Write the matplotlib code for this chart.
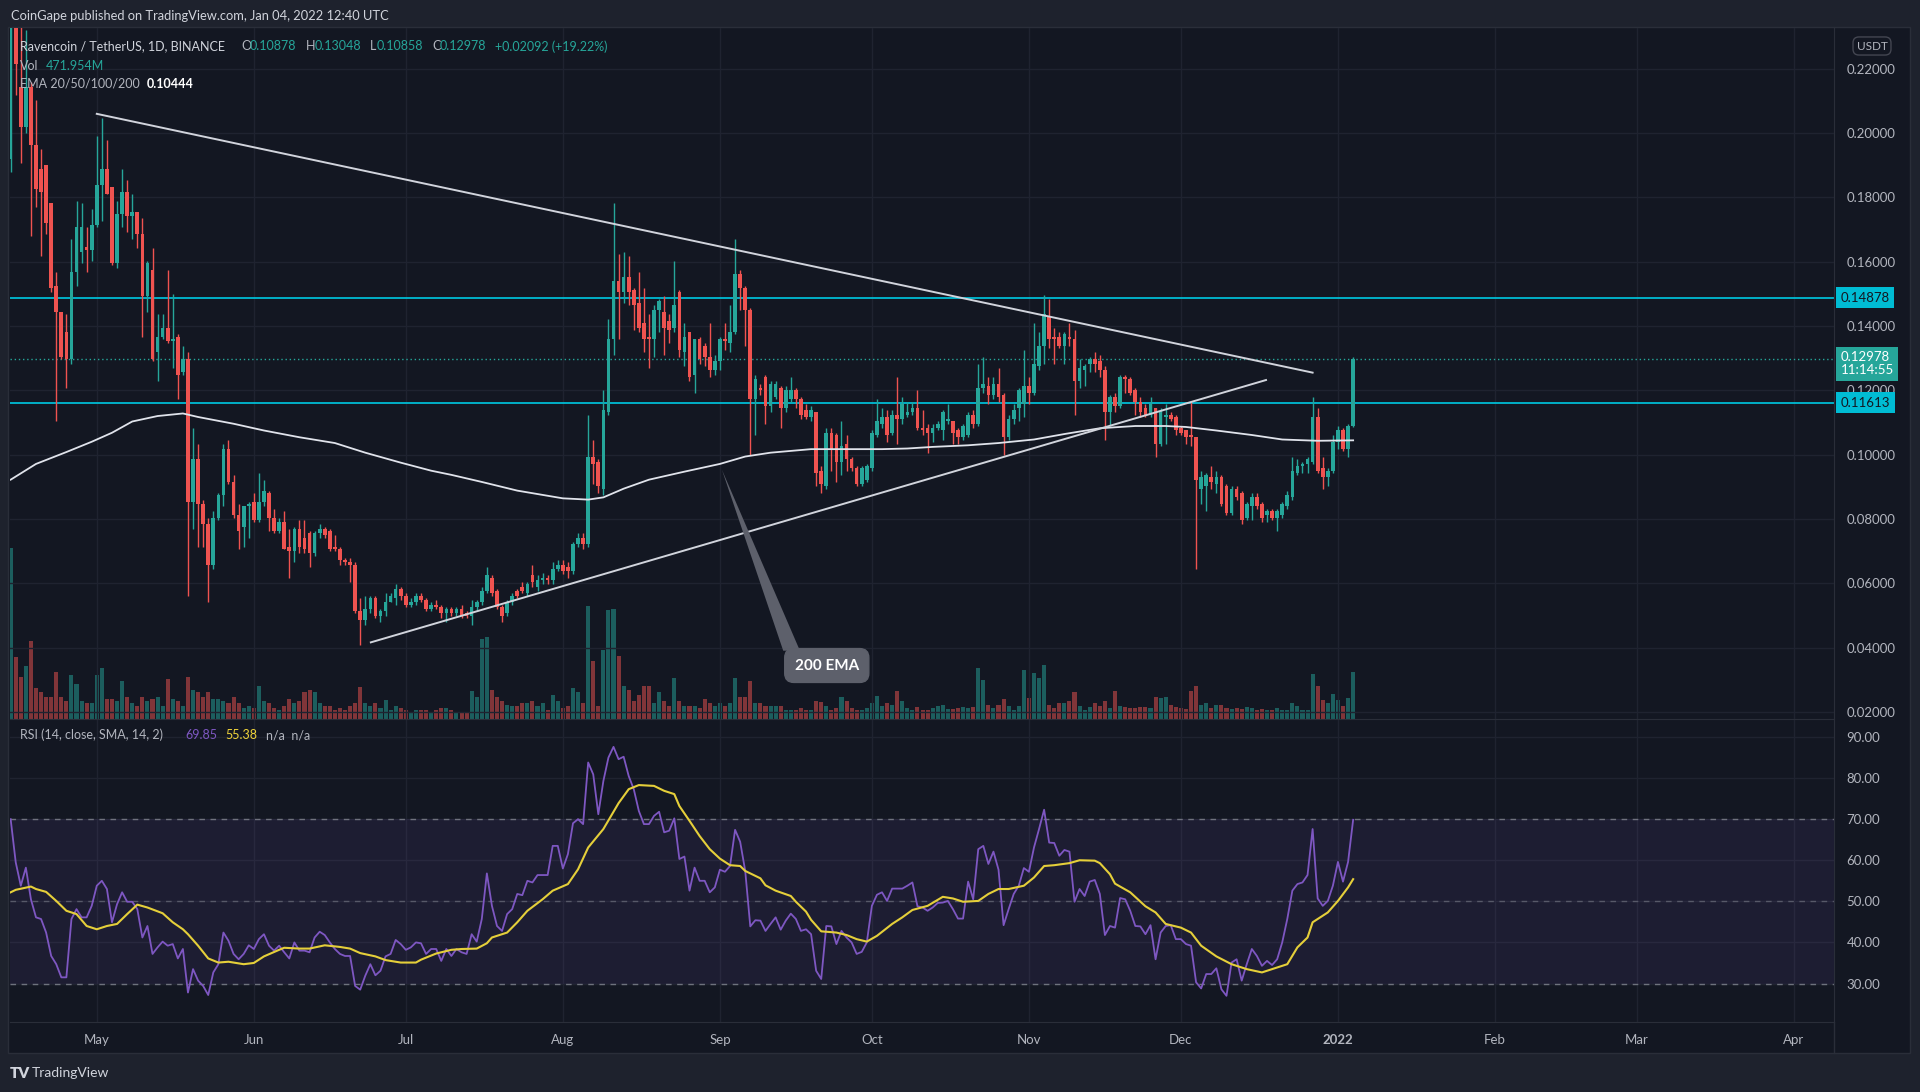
import matplotlib
matplotlib.use('Agg')
import matplotlib.pyplot as plt
import matplotlib.transforms as mtransforms
from matplotlib.patches import Rectangle, Polygon
from matplotlib.ticker import FormatStrFormatter
from matplotlib.lines import Line2D
import numpy as np
import pandas as pd

plt.rcParams['font.family'] = ['Lato', 'DejaVu Sans']

# ---- RVN/USDT daily candles, 2021-04-14 .. 2022-01-04 ----
opens = [
    # Apr
    .192, .238, .2144, .2019, .2144, .1964, .1888, .1901, .1783, .1526, .1443, .1381, .1297, .1568, .1631, .1645, .1638,
    # May
    .1714, .1839, .1888, .1832, .1596, .1749, .1818, .1742, .1756, .1686, .1492, .1575, .1318, .1367, .1394, .1353,
    .1367, .1256, .1297, .0853, .0985, .0846, .0783, .0658, .0804, .0874, .1019, .0915, .0811, .0776, .0839,
    # Jun
    .0853, .0797, .0853, .0881, .0804, .0763, .079, .0714, .07, .0769, .0742, .0756, .0693, .0756, .0769,
    .0763, .0714, .0707, .0672, .0665, .0658, .0513, .0485, .0519, .0554, .0499, .0513, .054, .0554, .0582,
    # Jul
    .0561, .0533, .054, .0561, .0547, .0519, .0533, .0526, .0506, .0519, .0506, .0519, .0506, .0499, .0526, .054,
    .0575, .0617, .0575, .0526, .0506, .054, .0575, .0589, .0568, .0624, .0589, .061, .0617, .061, .0644,
    # Aug
    .0658, .0651, .0637, .0721, .0742, .0721, .0992, .0978, .0894, .1131, .136, .154, .1506, .1554, .1513, .1471,
    .1408, .1367, .136, .145, .1443, .1415, .1394, .1506, .1318, .1381, .1249, .136, .1339, .1304, .1263,
    # Sep
    .129, .136, .1346, .1381, .1561, .1519, .145, .1172, .1207, .1242, .1151, .1179, .1207, .1144, .1172,
    .12, .1172, .1138, .1117, .1131, .095, .0901, .1068, .1061, .0978, .1033, .0985, .0957, .0908, .0922,
    # Oct
    .0957, .1061, .1096, .1117, .1068, .1124, .111, .1124, .1131, .1144, .1082, .1082, .1068, .1082, .1075, .1103,
    .1103, .1075, .1054, .1061, .1124, .1096, .1207, .1214, .1186, .1221, .1186, .1054, .111, .1144, .1158,
    # Nov
    .1214, .1193, .1276, .1339, .1429, .1367, .1367, .1339, .1367, .136, .1228, .1263, .1283, .1297, .129,
    .1263, .1131, .1179, .1151, .1242, .1235, .12, .1165, .1144, .1124, .1144, .1033, .1117, .1124, .1117,
    # Dec
    .1082, .1075, .1061, .1054, .0894, .0901, .0929, .0908, .0929, .0901, .0818, .0894, .0881, .0804, .0839, .0867,
    .0846, .0811, .0825, .0804, .0811, .0839, .0867, .0943, .0964, .0971, .0978, .1117, .0957, .0929, .095,
    # Jan
    .104, .1075, .1019, .10878,
]
highs = [
    .250, .248, .235, .232, .2160, .2103, .195, .1901, .1783, .1568, .1443, .1436, .1672, .179, .1783, .1707, .1763,
    .1992, .2047, .1978, .1832, .179, .1888, .1853, .1811, .1756, .1735, .1603, .1644, .1436, .1436, .1575, .1499,
    .1374, .1339, .1318, .1082, .1033, .086, .0804, .0825, .0881, .1033, .1047, .0936, .0846, .0839, .0853,
    .0881, .0943, .0922, .0888, .0832, .0804, .0825, .0769, .0776, .0797, .0797, .0763, .0763, .0783, .0776,
    .0769, .0749, .0714, .0679, .0679, .0665, .0554, .0561, .0561, .0561, .0519, .0568, .0568, .0596, .0589,
    .0568, .0554, .0568, .0568, .0554, .054, .0547, .0533, .0526, .0526, .0526, .0533, .0513, .0547, .0547, .0589,
    .0651, .0624, .0582, .0533, .0547, .0568, .0582, .0603, .0603, .0658, .0624, .0631, .0624, .0665, .0672,
    .0672, .0665, .0728, .0756, .0756, .1124, .1047, .0985, .12, .1422, .1783, .1624, .1631, .1617, .1519, .1568,
    .1519, .1436, .1464, .1485, .1492, .1436, .1603, .1513, .1408, .1381, .136, .1367, .1346, .1408, .1311,
    .1367, .1408, .1464, .1672, .1575, .1526, .1457, .1249, .1221, .1249, .1228, .1228, .1214, .1214, .1242,
    .1207, .1179, .1158, .1151, .1131, .0964, .1082, .1082, .1068, .1103, .1061, .0992, .0964, .0964, .0971,
    .1075, .1172, .1144, .1138, .1138, .1242, .1179, .1165, .1165, .12, .1138, .1096, .1096, .1103, .1138, .1158,
    .1103, .1082, .1096, .1131, .1138, .1283, .1304, .1242, .1242, .1269, .1193, .1124, .1158, .1207, .1325,
    .1242, .1408, .1381, .1496, .1485, .1394, .1381, .1381, .1408, .1388, .1297, .1283, .1304, .1318, .1311,
    .1276, .1186, .1193, .1249, .1249, .1242, .1207, .1179, .1158, .1179, .1144, .1144, .1158, .1131, .1124,
    .1089, .1075, .1165, .1054, .095, .0943, .0964, .095, .0936, .0908, .0901, .0901, .0888, .0853, .0881, .0881,
    .0853, .0832, .0832, .0832, .0853, .0888, .0992, .0985, .0978, .0992, .1179, .1144, .0992, .0957, .1061,
    .1089, .1082, .1096, .13048,
]
lows = [
    .188, .212, .1908, .200, .1679, .1769, .1617, .1686, .1506, .1103, .1297, .1207, .1283, .1526, .1596, .1568, .1603,
    .1707, .1728, .1811, .1589, .1582, .1707, .1693, .1672, .1644, .1367, .1443, .129, .1228, .136, .1346, .1269,
    .1172, .1249, .0561, .0769, .0714, .0714, .054, .0644, .0797, .0839, .0908, .0804, .0707, .0714, .0742,
    .079, .079, .0839, .0763, .0756, .0756, .0707, .0617, .0665, .0693, .0693, .0651, .0686, .0742, .0742,
    .07, .07, .0658, .0658, .0603, .0506, .0408, .0471, .0506, .0492, .0478, .0499, .054, .0533, .0547,
    .0526, .0526, .0533, .054, .0513, .0513, .0519, .0492, .0478, .0499, .0499, .0492, .0492, .0471, .0513, .0533,
    .0568, .0561, .0519, .0478, .0499, .0533, .0554, .0568, .0561, .0589, .0575, .0596, .0596, .0596, .0637,
    .063, .0617, .063, .0714, .0707, .0714, .0908, .0881, .0874, .1124, .1311, .136, .1471, .1464, .1388, .1381,
    .1318, .1269, .1304, .1381, .1311, .1346, .1381, .1304, .1276, .1228, .1193, .1283, .1276, .1242, .1249,
    .1263, .1325, .1318, .1374, .145, .1339, .0999, .1061, .1186, .1096, .1131, .1172, .1082, .1131, .1165,
    .1144, .111, .111, .1103, .0901, .0881, .0894, .095, .0915, .0936, .095, .095, .0901, .0901, .0915,
    .095, .1054, .1082, .104, .1061, .1033, .1096, .1117, .1124, .1075, .1061, .1006, .104, .1075, .1047, .1096,
    .1033, .1033, .1047, .1054, .1082, .1089, .1193, .1158, .1172, .1165, .0999, .1047, .1096, .1103, .1117,
    .1158, .1186, .1263, .1283, .1332, .1283, .1332, .1283, .1339, .1124, .1207, .1214, .1256, .1256, .1242,
    .1047, .1089, .1131, .1144, .1193, .1186, .1124, .1117, .1117, .1117, .0992, .1026, .1033, .1103, .1061,
    .1061, .1033, .1026, .0644, .0846, .0825, .0894, .0881, .0839, .0811, .0811, .086, .0783, .0797, .0797, .0832,
    .079, .079, .0797, .0763, .0804, .0832, .086, .0936, .0943, .0943, .0971, .0943, .0894, .0901, .0943,
    .1019, .1012, .0992, .10858,
]
closes = [
    .238, .2214, .2019, .2144, .1964, .1825, .1818, .1721, .1519, .1443, .1304, .1297, .1568, .1707, .1707, .1638, .1714,
    .1839, .1888, .1811, .1596, .1749, .1818, .1742, .1756, .1686, .1492, .1596, .1297, .1367, .1394, .1353, .136,
    .1249, .1297, .0853, .0985, .0846, .0783, .0658, .0804, .0874, .1019, .0915, .0811, .0763, .0839, .0846,
    .0797, .0853, .0888, .0804, .0763, .079, .0707, .07, .0769, .0714, .0707, .0693, .0756, .0769, .0749,
    .0707, .0707, .0672, .0665, .0658, .0513, .0485, .0519, .0554, .0499, .0513, .054, .0561, .0582, .0561,
    .0533, .054, .0561, .0547, .0519, .0533, .0526, .0506, .0519, .0506, .0519, .0499, .0499, .0526, .054, .0575,
    .0624, .0568, .0526, .0499, .054, .0561, .0561, .0575, .0596, .0603, .061, .0617, .061, .0644, .0658,
    .0638, .0637, .0721, .0742, .0721, .0992, .0971, .0901, .1138, .136, .154, .1506, .1554, .1506, .1464, .1394,
    .136, .136, .145, .1478, .1394, .1388, .1464, .1325, .1367, .1242, .136, .1297, .1304, .1263, .129,
    .136, .1353, .1381, .1561, .1519, .145, .1172, .1235, .12, .1151, .1221, .1221, .1144, .12, .12,
    .1172, .1124, .1117, .1138, .0943, .0908, .1068, .1019, .0978, .1026, .0985, .0957, .0908, .0957, .0964,
    .1068, .1103, .1117, .1061, .1124, .111, .1158, .1131, .1144, .1082, .1075, .1068, .1082, .1096, .1131, .111,
    .1068, .1054, .1089, .1124, .1096, .1207, .1221, .1186, .1221, .1179, .1054, .111, .1138, .12, .1214,
    .1193, .1283, .1339, .1436, .136, .136, .1339, .1374, .136, .1228, .1269, .1276, .1297, .1283, .1263,
    .1131, .1179, .1151, .1242, .1235, .1193, .1165, .1131, .1124, .1158, .1033, .1131, .1124, .111, .1075,
    .1068, .1054, .1054, .0922, .0929, .0936, .0915, .0929, .0846, .0818, .0894, .0867, .0797, .0846, .0867, .0839,
    .0804, .0825, .0804, .0825, .0846, .0874, .095, .0964, .0971, .0985, .1117, .095, .0929, .095, .104,
    .1075, .1019, .1089, .12978,
]
# volume, millions of RVN
volumes = [
    1733, 630, 428, 540, 788, 315, 270, 225, 225, 473, 225, 180, 450, 360, 180, 158, 158,
    450, 518, 203, 203, 180, 383, 225, 158, 135, 225, 180, 203, 225, 135, 405, 203, 180, 135, 428, 293,
    270, 225, 270, 203, 203, 180, 158, 225, 158, 113, 135,
    113, 338, 180, 158, 113, 90, 135, 203, 158, 180, 270, 293, 270, 158, 135, 135, 90, 113, 90, 135,
    158, 324, 158, 135, 158, 113, 189, 90, 135, 113,
    90, 68, 90, 90, 90, 68, 90, 113, 113, 90, 68, 68, 68, 279, 225, 810, 833, 293, 225, 180, 144,
    135, 135, 158, 167, 180, 135, 158, 90, 248, 180,
    113, 135, 315, 270, 158, 1148, 585, 135, 698, 1103, 1116, 639, 338, 293, 180, 248, 338, 338, 158, 270,
    180, 135, 414, 180, 135, 135, 135, 113, 203, 158, 135,
    158, 135, 158, 419, 225, 225, 383, 158, 158, 135, 135, 135, 135, 90, 90, 90, 113, 90, 90, 180,
    171, 135, 90, 113, 225, 180, 113, 90, 90, 113,
    158, 234, 135, 158, 144, 279, 180, 113, 90, 126, 90, 90, 113, 135, 144, 99, 99, 113, 122, 113,
    122, 518, 396, 144, 113, 144, 203, 135, 90, 135, 495,
    212, 464, 414, 549, 144, 113, 158, 158, 180, 270, 135, 90, 126, 158, 135, 180, 113, 279, 135, 122,
    113, 113, 122, 126, 113, 225, 216, 225, 144, 126,
    113, 104, 279, 338, 144, 158, 113, 144, 144, 113, 99, 113, 99, 122, 113, 90, 99, 90, 90, 113,
    90, 90, 158, 135, 90, 90, 459, 338, 189, 167, 257,
    189, 135, 216, 472,
]
rsi = [
    70.0, 59.5, 53.8, 58.2, 50.5, 46.1, 45.7, 42.4, 36.7, 34.7, 31.5, 31.5, 45.7, 48.1, 46.1, 46.1, 48.9,
    53.8, 55.0, 53.0, 44.9, 49.3, 52.2, 49.9, 49.9, 48.1, 41.2, 44.0, 37.2, 38.8, 40.2, 39.2, 39.6,
    36.1, 38.4, 27.8, 33.5, 30.7, 29.4, 27.2, 32.7, 34.7, 42.4, 40.4, 37.2, 35.9, 37.2, 39.3,
    38.4, 40.8, 42.0, 39.2, 38.0, 39.2, 37.6, 36.1, 40.0, 38.0, 38.0, 37.6, 41.2, 42.6, 41.8,
    40.0, 38.4, 37.2, 36.7, 36.7, 29.4, 28.5, 31.9, 34.7, 32.0, 33.1, 36.6, 37.2, 40.6, 39.6,
    38.2, 38.8, 40.0, 39.8, 37.2, 38.4, 38.4, 35.5, 38.4, 36.7, 38.4, 37.6, 37.2, 42.0, 40.2, 45.7,
    56.8, 48.9, 44.0, 42.8, 46.9, 48.1, 51.8, 51.5, 55.0, 54.6, 56.4, 56.4, 56.4, 63.5, 63.5,
    58.0, 61.5, 69.0, 70.0, 68.8, 83.8, 80.9, 71.2, 79.3, 85.0, 87.6, 84.6, 85.2, 80.5, 77.3, 72.0,
    68.8, 68.8, 70.8, 71.8, 66.8, 67.2, 70.2, 60.3, 60.9, 52.6, 58.2, 55.0, 55.0, 52.2, 53.4,
    57.7, 57.2, 58.6, 67.4, 64.5, 57.4, 43.9, 45.4, 45.3, 42.8, 44.5, 46.1, 43.1, 45.3, 47.0,
    45.7, 42.8, 43.2, 42.0, 33.1, 31.1, 44.0, 43.9, 39.6, 42.8, 41.2, 40.0, 37.2, 37.7, 40.0,
    48.9, 51.6, 52.2, 50.1, 53.1, 53.1, 53.1, 53.8, 54.6, 48.8, 48.5, 47.7, 48.5, 49.6, 49.7, 50.1,
    48.1, 45.8, 45.8, 54.8, 50.5, 62.7, 63.5, 59.1, 62.1, 57.7, 44.2, 48.1, 51.8, 53.8, 58.1,
    57.2, 63.1, 67.6, 72.3, 64.3, 64.2, 61.1, 62.5, 62.1, 49.9, 53.0, 51.3, 54.8, 55.2, 51.8,
    41.8, 44.0, 43.6, 50.8, 50.5, 47.7, 44.0, 43.9, 42.0, 44.2, 35.9, 42.4, 44.0, 44.2, 40.8,
    40.8, 39.6, 39.2, 30.3, 28.8, 32.3, 32.3, 33.7, 28.6, 27.0, 35.1, 35.9, 30.7, 34.7, 38.4, 36.7,
    34.3, 35.5, 34.5, 35.9, 40.0, 45.7, 52.6, 54.2, 54.6, 56.4, 67.6, 50.7, 48.9, 50.1, 53.8,
    59.6, 54.8, 59.6, 69.85,
]
# RSI-based SMA (yellow), day index from 2021-04-14
sma_idx = [0, 1, 4, 5, 7, 9, 11, 13, 15, 17, 19, 21, 23, 25, 27, 30, 32, 34, 35, 37,
           39, 41, 43, 46, 48, 50, 53, 54, 57, 59, 62, 65, 67, 69, 72, 74, 77, 80, 81, 84,
           87, 89, 92, 94, 95, 98, 100, 102, 105, 107, 110, 112, 114, 117, 120, 122, 124, 127, 129, 131,
           132, 134, 136, 138, 140, 142, 144, 145, 148, 149, 151, 154, 155, 157, 158, 160, 163, 165, 167, 169,
           171, 174, 176, 178, 181, 184, 186, 188, 191, 193, 195, 197, 200, 202, 204, 206, 209, 211, 214, 215,
           217, 218, 221, 224, 226, 228, 231, 233, 235, 238, 241, 244, 247, 249, 252, 254, 256, 257, 260, 262,
           264, 265]
sma_val = [52.2, 52.8, 53.6, 53.0, 52.3, 50.1, 47.7, 46.9, 44.0, 43.2, 44.0, 44.5, 46.9, 49.2, 48.5, 47.1, 44.9, 43.2, 42.0, 39.2,
           36.1, 35.1, 35.3, 34.7, 35.0, 36.6, 38.2, 38.7, 38.5, 38.5, 39.3, 38.9, 38.5, 37.4, 36.6, 35.7, 35.1, 35.1, 35.8, 37.3,
           38.2, 38.4, 38.5, 39.8, 41.2, 42.4, 44.9, 47.7, 50.5, 52.6, 54.2, 57.8, 63.1, 67.6, 73.9, 77.3, 78.3, 78.1, 76.9, 76.1,
           73.2, 69.6, 65.9, 62.7, 60.4, 58.8, 58.6, 57.4, 55.6, 53.9, 52.6, 51.3, 49.9, 47.5, 45.5, 42.7, 42.4, 41.8, 40.8, 40.2,
           41.6, 44.5, 46.1, 47.9, 48.9, 51.1, 50.7, 49.9, 50.1, 51.8, 53.0, 53.0, 53.8, 55.8, 58.6, 58.8, 59.3, 60.0, 59.9, 59.3,
           56.6, 54.3, 52.2, 48.8, 47.3, 44.5, 43.6, 42.4, 39.2, 36.6, 34.7, 33.5, 32.7, 33.5, 34.7, 38.8, 41.2, 44.9, 47.3, 50.1,
           53.4, 55.4]
# EMA 200 (white), day index from 2021-04-14
ema_idx = [0, 5, 11, 16, 20, 24, 29, 34, 37, 44, 50, 57, 64, 70, 77, 83, 87, 93, 100, 109,
           114, 117, 121, 126, 133, 140, 145, 150, 158, 166, 172, 177, 182, 189, 195, 202, 208, 215, 222, 228,
           232, 238, 245, 251, 258, 265]
ema_val = [0.0922, 0.0971, 0.1008, 0.1040, 0.1068, 0.1103, 0.1120, 0.1128, 0.1117, 0.1096,
           0.1075, 0.1054, 0.1036, 0.1006, 0.0975, 0.0950, 0.0937, 0.0915, 0.0888, 0.0864,
           0.0860, 0.0867, 0.0894, 0.0922, 0.0947, 0.0971, 0.0994, 0.1006, 0.1017, 0.1017,
           0.1017, 0.1019, 0.1024, 0.1029, 0.1036, 0.1047, 0.1064, 0.1082, 0.1089, 0.1089,
           0.1086, 0.1075, 0.1061, 0.1047, 0.1043, 0.10444]

levels = [0.14878, 0.11613]
last_price = 0.12978
start_day = pd.Timestamp('2021-04-14')

# colours
BG = '#131722'
OUTER = '#1e222d'
GRID = '#1f2330'
SEP = '#2a2e39'
TXT = '#b2b5be'
UP = '#26a69a'
DN = '#ef5350'
CYAN = '#00bcd4'

o = np.array(opens); h = np.array(highs); l = np.array(lows); c = np.array(closes)
n = len(c)
x = np.arange(n)
up = c >= o
cols = np.where(up, UP, DN)

W, H = 1920, 1092
def fx(px): return px / W
def fy(py): return 1 - py / H

fig = plt.figure(figsize=(19.2, 10.92), dpi=100, facecolor=OUTER)
fig.patches.append(Rectangle((fx(8), fy(1053)), fx(1910) - fx(8), fy(27) - fy(1053),
                             transform=fig.transFigure, fc=BG, ec=SEP, lw=1, zorder=-1))

ax = fig.add_axes([fx(10), fy(719), fx(1834) - fx(10), fy(28) - fy(719)])
axr = fig.add_axes([fx(10), fy(1022), fx(1834) - fx(10), fy(720) - fy(1022)], sharex=ax)
axv = ax.twinx()
ax.set_zorder(axv.get_zorder() + 1)
ax.patch.set_visible(False)
axr.set_facecolor(BG)

# month ticks
month_starts = pd.date_range('2021-05-01', '2022-04-01', freq='MS')
tick_pos = [(m - start_day).days for m in month_starts]
tick_lab = ['2022' if m.month == 1 else m.strftime('%b') for m in month_starts]

# volume
axv.bar(x, volumes, width=0.8, color=cols, alpha=0.5, lw=0)
axv.set_ylim(0, 7010)
axv.set_yticks([])
for s in axv.spines.values():
    s.set_visible(False)

# candles
ax.vlines(x, l, h, colors=cols, lw=1.0, zorder=3)
ax.bar(x, np.maximum(np.abs(c - o), 0.00035), bottom=np.minimum(o, c), width=0.72,
       color=cols, lw=0, zorder=4)

# EMA 200
ax.plot(ema_idx, ema_val, color='#e0e3eb', lw=1.3, zorder=5)

# drawings: triangle lines
ax.plot([17, 257], [0.2060, 0.1255], color='#d1d4dc', lw=1.4, zorder=5)
ax.plot([71.1, 247.8], [0.0416, 0.1232], color='#d1d4dc', lw=1.4, zorder=5)

# horizontal levels
for lv in levels:
    ax.axhline(lv, color=CYAN, lw=1.3, zorder=2)
ax.axhline(last_price, color=UP, lw=1.0, ls=(0, (1, 2)), zorder=2)

# 200 EMA callout
ax.add_patch(Polygon([[140.4, 0.0953], [152.5, 0.0390], [155.8, 0.0390]], closed=True,
                     fc='#5d606b', ec='none', zorder=6))
ax.text(161.1, 0.0344, '200 EMA', ha='center', va='center', color='white', fontsize=11,
        fontweight='bold', zorder=7,
        bbox=dict(boxstyle='round,pad=0.65,rounding_size=0.6', fc='#5d606b', ec='#5d606b'))

ax.set_xlim(-0.13, 359.92)
ax.set_ylim(0.01776, 0.2327)
ax.set_yticks(np.arange(0.02, 0.2201, 0.02))
ax.yaxis.set_major_formatter(FormatStrFormatter('%.5f'))
ax.yaxis.tick_right()
ax.tick_params(axis='y', length=0, pad=9, labelsize=9.5, labelcolor=TXT)
ax.set_xticks(tick_pos)
ax.tick_params(axis='x', length=0, labelbottom=False)
ax.grid(True, color=GRID, lw=1)
ax.set_axisbelow(True)
for side in ['top', 'left']:
    ax.spines[side].set_visible(False)
for side in ['right', 'bottom']:
    ax.spines[side].set_color(SEP)

# price labels on the axis
tr = mtransforms.blended_transform_factory(ax.transAxes, ax.transData)
for lv in levels:
    ax.text(1.0035, lv, f'{lv:.5f}', transform=tr, ha='left', va='center', color=BG,
            fontsize=9.5, clip_on=False, zorder=10,
            bbox=dict(boxstyle='square,pad=0.35', fc=CYAN, ec='none'))
ax.text(1.0035, 0.1321, f'{last_price:.5f}\n11:14:55', transform=tr, ha='left', va='top',
        color='white', fontsize=9.5, linespacing=1.05, clip_on=False, zorder=10,
        bbox=dict(boxstyle='square,pad=0.35', fc=UP, ec='none'))

# RSI panel
axr.axhspan(30, 70, color='#7e57c2', alpha=0.1, lw=0)
for lv, a in [(70, 0.9), (50, 0.6), (30, 0.9)]:
    axr.axhline(lv, color='#787b86', lw=1, ls=(0, (4, 4)), alpha=a)
axr.plot(x, rsi, color='#7e57c2', lw=1.3)
axr.plot(sma_idx, sma_val, color='#e5cf3a', lw=1.5)
axr.set_ylim(20.63, 94.14)
axr.set_yticks([30, 40, 50, 60, 70, 80, 90])
axr.yaxis.set_major_formatter(FormatStrFormatter('%.2f'))
axr.yaxis.tick_right()
axr.tick_params(axis='y', length=0, pad=9, labelsize=9.5, labelcolor=TXT)
axr.set_xticks(tick_pos)
axr.set_xticklabels(tick_lab)
axr.tick_params(axis='x', length=0, pad=9, labelsize=9.5, labelcolor=TXT)
for t in axr.get_xticklabels():
    if t.get_text() == '2022':
        t.set_fontweight('bold')
axr.grid(True, color=GRID, lw=1)
axr.set_axisbelow(True)
for side in ['top', 'left']:
    axr.spines[side].set_visible(False)
for side in ['right', 'bottom']:
    axr.spines[side].set_color(SEP)
ax.set_xlim(-0.13, 359.92)

# separator in the time-axis row
fig.add_artist(Line2D([fx(1834), fx(1834)], [fy(1022), fy(1053)], color=SEP, lw=1))

# header texts
fig.text(fx(11), fy(16), 'CoinGape published on TradingView.com, Jan 04, 2022 12:40 UTC',
         color='#d1d4dc', fontsize=9.3, va='center')

def segs(y, parts, size=9):
    for px, s, col, wt in parts:
        fig.text(fx(px), fy(y), s, color=col, fontsize=size, va='center', fontweight=wt)

segs(46.5, [(20, 'Ravencoin / TetherUS, 1D, BINANCE', '#d1d4dc', 'normal'),
            (241, 'O', TXT, 'normal'), (250, '0.10878', UP, 'normal'),
            (306, 'H', TXT, 'normal'), (315, '0.13048', UP, 'normal'),
            (370, 'L', TXT, 'normal'), (377, '0.10858', UP, 'normal'),
            (432, 'C', TXT, 'normal'), (440, '0.12978', UP, 'normal'),
            (495, '+0.02092 (+19.22%)', UP, 'normal')])
segs(66.5, [(20, 'Vol', TXT, 'normal'), (46, '471.954M', UP, 'normal')])
segs(83.5, [(20, 'EMA 20/50/100/200', TXT, 'normal'), (147, '0.10444', 'white', 'bold')])
segs(735, [(20, 'RSI (14, close, SMA, 14, 2)', TXT, 'normal'), (185, '69.85', '#7e57c2', 'normal'),
           (225, '55.38', '#f0d43a', 'normal'), (266, 'n/a  n/a', TXT, 'normal')])

fig.text(fx(1872), fy(46), 'USDT', color=TXT, fontsize=8.5, ha='center', va='center',
         bbox=dict(boxstyle='round,pad=0.3,rounding_size=0.5', fc=BG, ec='#434651'))

# footer
fig.text(fx(10), fy(1073), 'TV', color='#d1d4dc', fontsize=11, fontweight='heavy', va='center')
fig.text(fx(32), fy(1073), 'TradingView', color='#d1d4dc', fontsize=10, va='center')

fig.savefig('out.png', dpi=100, facecolor=fig.get_facecolor())
